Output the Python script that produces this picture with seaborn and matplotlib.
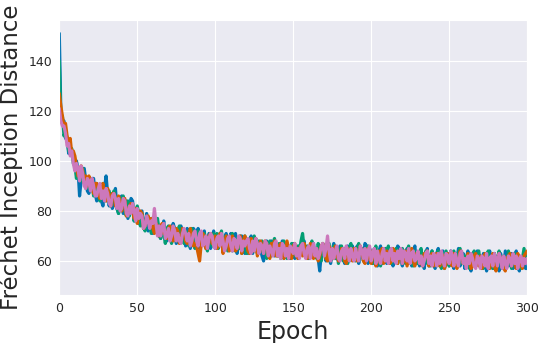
import numpy as np
import pandas as pd
import matplotlib
matplotlib.use("Agg")
import matplotlib.pyplot as plt
import seaborn as sns

# FID per epoch (0..300), one list per run
fid_blue = [
    151, 120, 115, 116, 109, 109, 103, 106, 102, 103,
    97, 100, 97, 86, 92, 97, 97, 92, 88, 87,
    89, 93, 93, 87, 84, 90, 87, 84, 82, 89,
    94, 87, 82, 87, 81, 83, 89, 81, 79, 85,
    86, 79, 80, 84, 77, 81, 85, 84, 76, 81,
    76, 75, 79, 80, 73, 75, 79, 72, 76, 77,
    71, 75, 76, 75, 70, 69, 73, 76, 70, 68,
    73, 69, 72, 75, 73, 67, 69, 72, 74, 68,
    71, 66, 73, 70, 65, 69, 73, 72, 67, 73,
    65, 70, 67, 72, 65, 68, 71, 65, 69, 72,
    65, 69, 66, 71, 70, 64, 69, 71, 66, 68,
    71, 64, 67, 71, 63, 68, 65, 70, 68, 63,
    68, 63, 67, 70, 63, 66, 69, 64, 67, 65,
    62, 60, 66, 68, 63, 65, 68, 67, 62, 64,
    66, 62, 65, 68, 61, 64, 67, 62, 61, 65,
    67, 61, 64, 61, 66, 63, 67, 68, 62, 63,
    61, 66, 63, 67, 62, 64, 61, 56, 63, 67,
    64, 60, 65, 61, 59, 64, 67, 65, 63, 60,
    66, 61, 64, 59, 63, 66, 60, 62, 66, 61,
    62, 66, 59, 63, 65, 61, 67, 66, 59, 65,
    63, 59, 65, 61, 58, 64, 66, 59, 62, 65,
    59, 64, 61, 65, 58, 62, 64, 66, 65, 61,
    58, 64, 61, 65, 59, 62, 58, 64, 66, 59,
    62, 58, 64, 60, 57, 62, 65, 58, 61, 64,
    60, 57, 63, 65, 58, 61, 64, 57, 60, 63,
    58, 64, 60, 57, 63, 61, 65, 58, 60, 63,
    57, 61, 64, 58, 56, 61, 63, 58, 64, 60,
    62, 57, 63, 60, 56, 61, 64, 58, 57, 63,
    58, 62, 56, 63, 60, 57, 64, 61, 58, 60,
    63, 57, 60, 64, 58, 56, 61, 60, 63, 57,
    57,
]

fid_green = [
    140, 117, 118, 110, 112, 109, 104, 105, 105, 99,
    98, 93, 97, 97, 92, 97, 93, 89, 93, 89,
    93, 91, 86, 88, 91, 87, 84, 89, 91, 85,
    84, 88, 88, 82, 84, 88, 85, 81, 79, 85,
    83, 86, 80, 78, 84, 78, 81, 83, 76, 78,
    82, 79, 74, 79, 74, 72, 78, 77, 74, 71,
    76, 72, 76, 77, 72, 69, 74, 71, 67, 73,
    74, 70, 67, 72, 73, 68, 72, 74, 68, 69,
    67, 72, 71, 66, 71, 73, 67, 65, 70, 72,
    71, 66, 69, 71, 67, 64, 70, 69, 66, 71,
    67, 71, 65, 69, 72, 65, 66, 70, 64, 68,
    69, 71, 66, 64, 69, 65, 70, 63, 68, 70,
    63, 67, 69, 64, 65, 70, 67, 63, 68, 64,
    68, 63, 66, 61, 66, 68, 62, 67, 69, 64,
    62, 67, 61, 65, 68, 63, 61, 66, 63, 67,
    62, 65, 63, 66, 64, 68, 71, 65, 63, 66,
    61, 66, 68, 62, 65, 61, 67, 63, 60, 66,
    66, 61, 64, 67, 60, 62, 66, 61, 65, 59,
    64, 66, 60, 65, 62, 59, 65, 67, 61, 64,
    60, 65, 67, 62, 64, 60, 65, 61, 66, 62,
    64, 59, 63, 66, 60, 63, 58, 64, 61, 65,
    61, 66, 60, 59, 64, 61, 65, 59, 63, 64,
    65, 60, 59, 64, 66, 61, 63, 58, 64, 61,
    59, 63, 65, 58, 61, 64, 59, 62, 58, 64,
    62, 59, 58, 64, 62, 57, 63, 60, 64, 61,
    58, 63, 60, 64, 61, 58, 63, 65, 59, 61,
    62, 58, 61, 57, 63, 60, 64, 58, 61, 64,
    58, 61, 57, 63, 60, 64, 58, 61, 57, 63,
    61, 58, 64, 60, 57, 62, 60, 58, 64, 61,
    57, 61, 63, 58, 60, 62, 57, 61, 65, 60,
    63,
]

fid_orange = [
    127, 122, 118, 114, 115, 110, 107, 109, 103, 104,
    102, 98, 94, 96, 98, 96, 91, 94, 90, 94,
    92, 89, 87, 91, 91, 89, 85, 89, 91, 86,
    84, 89, 86, 82, 87, 87, 82, 82, 86, 84,
    80, 84, 85, 78, 80, 82, 83, 81, 77, 81,
    75, 79, 80, 79, 73, 74, 77, 78, 74, 77,
    73, 71, 75, 74, 70, 74, 75, 71, 72, 69,
    73, 74, 69, 68, 71, 73, 72, 67, 68, 73,
    72, 68, 67, 70, 73, 70, 66, 67, 66, 63,
    60, 67, 71, 69, 65, 66, 70, 71, 67, 69,
    70, 65, 66, 71, 69, 63, 67, 70, 69, 64,
    66, 70, 68, 64, 65, 69, 70, 63, 68, 70,
    67, 64, 63, 69, 67, 64, 69, 62, 65, 68,
    66, 63, 68, 67, 62, 61, 67, 66, 68, 62,
    62, 66, 67, 64, 61, 63, 68, 65, 62, 61,
    66, 67, 62, 61, 65, 66, 62, 67, 65, 61,
    62, 67, 65, 61, 62, 65, 60, 62, 66, 67,
    64, 61, 60, 66, 64, 65, 61, 66, 63, 60,
    61, 65, 64, 60, 59, 65, 64, 61, 60, 65,
    65, 60, 62, 66, 64, 60, 59, 64, 65, 61,
    59, 64, 63, 58, 60, 64, 62, 65, 59, 61,
    64, 63, 59, 60, 65, 64, 61, 59, 64, 63,
    59, 60, 64, 58, 61, 64, 65, 60, 58, 63,
    63, 62, 59, 58, 63, 62, 64, 58, 60, 63,
    58, 60, 63, 62, 58, 63, 62, 57, 59, 63,
    62, 59, 58, 63, 62, 57, 60, 64, 62, 59,
    61, 58, 63, 61, 57, 58, 62, 63, 59, 58,
    62, 57, 59, 63, 61, 58, 57, 61, 63, 58,
    56, 59, 63, 61, 58, 57, 56, 61, 62, 63,
    58, 62, 61, 57, 63, 58, 59, 57, 62, 63,
    64,
]

fid_pink = [
    121, 116, 114, 114, 111, 106, 107, 102, 104, 99,
    96, 99, 97, 92, 98, 95, 90, 89, 93, 92,
    88, 93, 90, 86, 86, 89, 91, 85, 88, 84,
    89, 87, 83, 82, 86, 87, 85, 81, 85, 80,
    81, 85, 84, 79, 78, 82, 79, 83, 80, 76,
    81, 77, 79, 78, 73, 74, 78, 76, 73, 76,
    75, 81, 75, 70, 74, 70, 74, 75, 69, 70,
    73, 68, 70, 74, 72, 68, 71, 68, 67, 71,
    73, 71, 68, 71, 66, 68, 71, 72, 68, 66,
    71, 72, 66, 67, 70, 65, 69, 71, 70, 66,
    65, 69, 70, 66, 71, 68, 64, 66, 69, 70,
    66, 64, 69, 68, 65, 70, 69, 64, 68, 66,
    68, 69, 65, 63, 68, 64, 69, 67, 63, 67,
    66, 63, 68, 67, 62, 66, 64, 62, 67, 68,
    62, 65, 61, 67, 66, 62, 65, 61, 66, 65,
    63, 67, 62, 65, 61, 66, 67, 63, 61, 65,
    66, 61, 65, 67, 62, 65, 61, 63, 66, 67,
    62, 65, 70, 64, 60, 65, 61, 64, 66, 61,
    60, 64, 65, 61, 66, 64, 60, 65, 62, 60,
    65, 62, 60, 66, 64, 61, 65, 60, 64, 66,
    60, 63, 65, 59, 64, 61, 59, 63, 65, 60,
    63, 59, 64, 65, 60, 63, 59, 64, 61, 65,
    59, 64, 63, 60, 65, 59, 63, 64, 60, 61,
    64, 59, 62, 58, 60, 63, 64, 59, 62, 58,
    63, 62, 58, 63, 59, 64, 60, 58, 63, 62,
    59, 64, 62, 58, 63, 60, 58, 63, 64, 59,
    61, 57, 62, 59, 63, 61, 58, 57, 62, 61,
    57, 62, 61, 58, 63, 57, 61, 62, 58, 63,
    61, 58, 63, 61, 57, 62, 59, 57, 62, 61,
    58, 63, 59, 62, 57, 61, 62, 58, 61, 59,
    61,
]

runs = ['run 1', 'run 2', 'run 3', 'run 4']
run_colors = ['#0173b2', '#029e73', '#d55e00', '#cc78bc']

frames = []
for name, vals in zip(runs, [fid_blue, fid_green, fid_orange, fid_pink]):
    frames.append(pd.DataFrame({'Epoch': np.arange(len(vals)), 'FID': vals, 'run': name}))
df = pd.concat(frames, ignore_index=True)

sns.set_style('darkgrid')
fig, ax = plt.subplots(figsize=(5.39, 3.43), dpi=100)
fig.subplots_adjust(left=0.110, right=0.978, bottom=0.140, top=0.942)

sns.lineplot(data=df, x='Epoch', y='FID', hue='run', hue_order=runs,
             palette=run_colors, linewidth=2.3, legend=False, ax=ax)

ax.set_xlim(0, 300)
ax.set_ylim(46.4, 156.4)
ax.set_xticks([0, 50, 100, 150, 200, 250, 300])
ax.set_yticks([60, 80, 100, 120, 140])
ax.tick_params(labelsize=9, colors='.15', length=0, pad=5)
ax.set_xlabel('Epoch', fontsize=17, color='.15')
ax.set_ylabel('Fréchet Inception Distance', fontsize=16.5, color='.15')

plt.savefig('out.png', dpi=100)
plt.close('all')
